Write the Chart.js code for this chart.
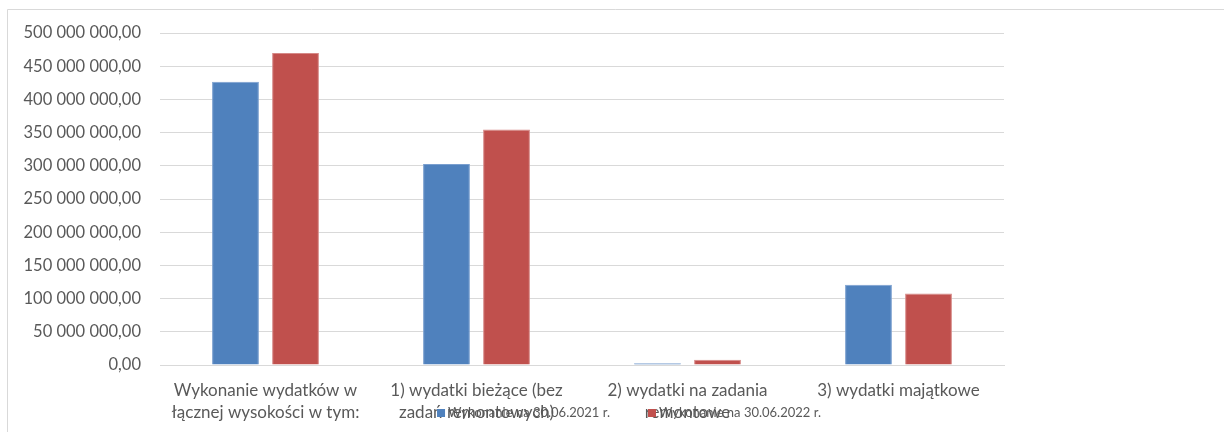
<!DOCTYPE html>
<html>
<head>
<meta charset="utf-8">
<script src="https://cdn.jsdelivr.net/npm/chart.js@4"></script>
<style>
  html, body { margin: 0; padding: 0; background: #fff; }
  #wrap { width: 1224px; height: 432px; position: relative; }
</style>
</head>
<body>
<div id="wrap"><canvas id="chart" width="1224" height="432"></canvas></div>
<script>
const categories = [
  ["Wykonanie wydatków w", "łącznej wysokości w tym:"],
  ["1) wydatki bieżące (bez", "zadań remontowych)"],
  ["2) wydatki na zadania", "remontowe"],
  ["3) wydatki majątkowe"]
];
const series2021 = [426500000, 302800000, 2500000, 121000000];
const series2022 = [470000000, 354600000, 8000000, 107700000];
const seriesLabels = ["Wykonanie na 30.06.2021 r.", "Wykonanie na 30.06.2022 r."];
const yTickLabels = [
  "0,00", "50 000 000,00", "100 000 000,00", "150 000 000,00", "200 000 000,00",
  "250 000 000,00", "300 000 000,00", "350 000 000,00", "400 000 000,00",
  "450 000 000,00", "500 000 000,00"
];

const FONT = "Lato, 'Open Sans', sans-serif";

// frame of the chart (Excel-like border, top and left visible)
const framePlugin = {
  id: "frame",
  beforeDraw(chart) {
    const ctx = chart.ctx;
    ctx.save();
    ctx.fillStyle = "#fff";
    ctx.fillRect(0, 0, chart.width, chart.height);
    ctx.strokeStyle = "#d9d9d9";
    ctx.lineWidth = 1;
    ctx.beginPath();
    ctx.moveTo(7.5, chart.height);
    ctx.lineTo(7.5, 9.5);
    ctx.lineTo(chart.width, 9.5);
    ctx.stroke();
    ctx.restore();
  }
};

// legend drawn over the bottom area, overlapping the category labels like the original
const overlapLegend = {
  id: "overlapLegend",
  afterDraw(chart) {
    const ctx = chart.ctx;
    ctx.save();
    ctx.font = "13px " + FONT;
    ctx.textBaseline = "middle";
    const box = 8, gapBox = 3, gapItem = 38;
    const items = chart.data.datasets.map(ds => ({
      label: ds.label, color: ds.backgroundColor,
      w: box + gapBox + ctx.measureText(ds.label).width
    }));
    const total = items.reduce((s, it) => s + it.w, 0) + gapItem * (items.length - 1);
    let x = 629 - total / 2;
    const y = 413;
    items.forEach(it => {
      ctx.fillStyle = it.color;
      ctx.fillRect(x, y - box / 2, box, box);
      ctx.fillStyle = "#595959";
      ctx.fillText(it.label, x + box + gapBox, y);
      x += it.w + gapItem;
    });
    ctx.restore();
  }
};

new Chart(document.getElementById("chart"), {
  type: "bar",
  data: {
    labels: categories,
    datasets: [
      {
        label: seriesLabels[0],
        data: series2021,
        backgroundColor: "#4F81BD",
        borderColor: "#7A9FCF",
        borderWidth: 1,
        categoryPercentage: 0.569,
        barPercentage: 0.78
      },
      {
        label: seriesLabels[1],
        data: series2022,
        backgroundColor: "#C0504D",
        borderColor: "#D68987",
        borderWidth: 1,
        categoryPercentage: 0.569,
        barPercentage: 0.78
      }
    ]
  },
  options: {
    responsive: false,
    animation: false,
    layout: { padding: { left: 0, right: 220, top: 33, bottom: 0 } },
    plugins: {
      legend: { display: false },
      tooltip: { enabled: false }
    },
    scales: {
      x: {
        grid: { display: false, drawTicks: false },
        border: { display: true, color: "#d9d9d9", width: 1 },
        ticks: {
          color: "#595959",
          font: { family: FONT, size: 17, lineHeight: 1.33 },
          padding: 14,
          maxRotation: 0,
          autoSkip: false
        },
        afterFit(scale) { scale.height = 67; }
      },
      y: {
        min: 0,
        max: 500000000,
        grid: { color: "#d9d9d9", lineWidth: 1, drawTicks: false },
        border: { display: false },
        ticks: {
          stepSize: 50000000,
          color: "#595959",
          font: { family: FONT, size: 16.5 },
          padding: 19,
          callback: (v, i) => yTickLabels[i]
        },
        afterFit(scale) { scale.width = 160; }
      }
    }
  },
  plugins: [framePlugin, overlapLegend]
});
</script>
</body>
</html>
